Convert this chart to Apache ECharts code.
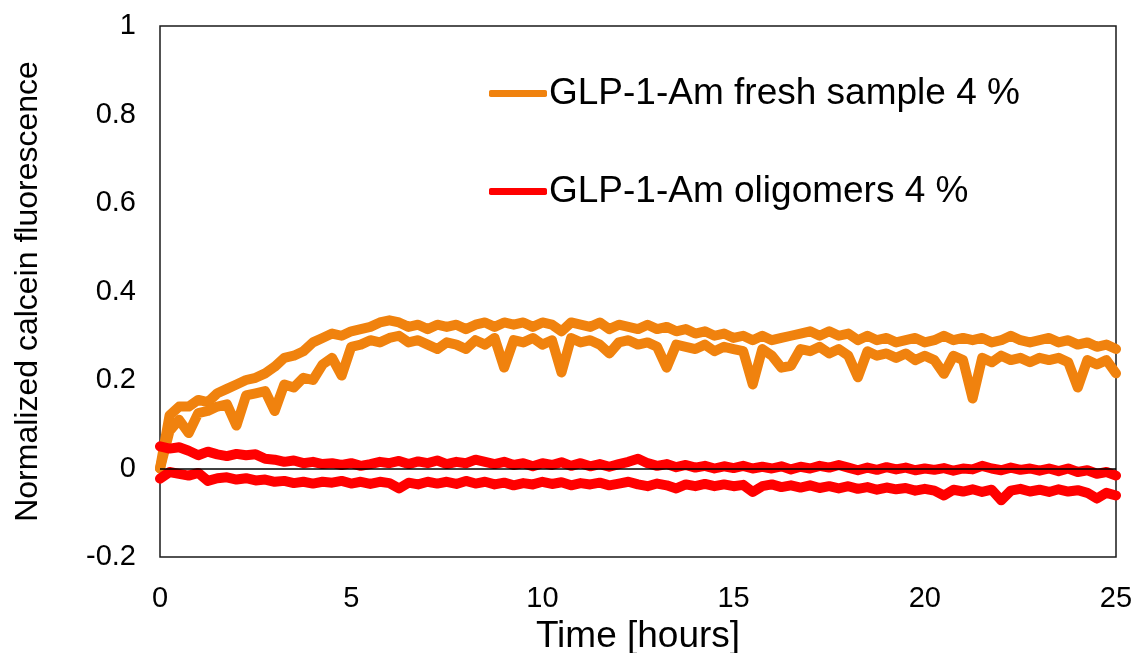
<!DOCTYPE html>
<html><head><meta charset="utf-8">
<script src="https://cdn.jsdelivr.net/npm/echarts@6/dist/echarts.min.js"></script>
<style>html,body{margin:0;padding:0;background:#fff}#c{width:1135px;height:653px}</style>
</head><body><div id="c"></div><script>
// Time axis samples (hours)
const times = [0,0.25,0.5,0.75,1,1.25,1.5,1.75,2,2.25,
 2.5,2.75,3,3.25,3.5,3.75,4,4.25,4.5,4.75,
 5,5.25,5.5,5.75,6,6.25,6.5,6.75,7,7.25,
 7.5,7.75,8,8.25,8.5,8.75,9,9.25,9.5,9.75,
 10,10.25,10.5,10.75,11,11.25,11.5,11.75,12,12.25,
 12.5,12.75,13,13.25,13.5,13.75,14,14.25,14.5,14.75,
 15,15.25,15.5,15.75,16,16.25,16.5,16.75,17,17.25,
 17.5,17.75,18,18.25,18.5,18.75,19,19.25,19.5,19.75,
 20,20.25,20.5,20.75,21,21.25,21.5,21.75,22,22.25,
 22.5,22.75,23,23.25,23.5,23.75,24,24.25,24.5,24.75,
 25];
// GLP-1-Am fresh sample 4 %, replicate 1
const freshRep1 = [0.00,0.12,0.14,0.14,0.155,0.15,0.17,0.18,0.19,0.20,
 0.205,0.215,0.23,0.25,0.255,0.265,0.285,0.295,0.305,0.30,
 0.31,0.315,0.32,0.33,0.335,0.33,0.32,0.325,0.315,0.325,
 0.32,0.325,0.315,0.325,0.33,0.32,0.33,0.325,0.33,0.32,
 0.33,0.325,0.31,0.33,0.325,0.32,0.33,0.315,0.325,0.32,
 0.315,0.325,0.315,0.32,0.31,0.315,0.305,0.31,0.30,0.305,
 0.295,0.30,0.29,0.30,0.29,0.295,0.30,0.305,0.31,0.30,
 0.31,0.30,0.305,0.29,0.30,0.29,0.295,0.285,0.29,0.295,
 0.285,0.29,0.30,0.29,0.295,0.29,0.295,0.285,0.29,0.30,
 0.29,0.285,0.29,0.295,0.285,0.29,0.28,0.285,0.275,0.28,
 0.27];
// GLP-1-Am fresh sample 4 %, replicate 2
const freshRep2 = [0.00,0.085,0.11,0.08,0.125,0.13,0.14,0.145,0.097,0.165,
 0.17,0.175,0.13,0.19,0.183,0.205,0.20,0.235,0.25,0.21,
 0.275,0.28,0.29,0.285,0.295,0.30,0.285,0.29,0.28,0.27,
 0.285,0.28,0.27,0.29,0.28,0.295,0.228,0.29,0.285,0.295,
 0.28,0.29,0.217,0.295,0.285,0.29,0.28,0.26,0.285,0.29,
 0.28,0.285,0.275,0.228,0.28,0.275,0.27,0.28,0.265,0.275,
 0.27,0.265,0.19,0.27,0.255,0.228,0.232,0.27,0.265,0.275,
 0.26,0.27,0.255,0.206,0.265,0.255,0.26,0.25,0.26,0.245,
 0.255,0.245,0.214,0.255,0.245,0.158,0.25,0.24,0.255,0.245,
 0.25,0.24,0.25,0.245,0.25,0.24,0.183,0.245,0.235,0.245,
 0.215];
// GLP-1-Am oligomers 4 %, replicate 1
const oligoRep1 = [0.05,0.045,0.048,0.04,0.03,0.038,0.032,0.028,0.033,0.03,
 0.032,0.022,0.02,0.015,0.018,0.012,0.015,0.01,0.012,0.008,
 0.012,0.006,0.01,0.015,0.012,0.017,0.01,0.016,0.012,0.018,
 0.01,0.015,0.012,0.02,0.015,0.01,0.015,0.008,0.012,0.005,
 0.012,0.008,0.014,0.006,0.012,0.005,0.01,0.004,0.01,0.015,
 0.022,0.012,0.006,0.01,0.003,0.008,0.002,0.006,0.0,0.005,
 0.001,0.006,0.0,0.004,0.0,0.005,-0.002,0.004,0.0,0.006,
 0.002,0.008,0.002,-0.004,0.002,-0.003,0.003,-0.002,0.002,-0.004,
 0.0,-0.003,0.001,-0.005,0.0,-0.002,0.006,0.0,-0.004,0.002,
 -0.003,0.0,-0.005,0.0,-0.006,0.0,-0.008,-0.004,-0.012,-0.008,
 -0.016];
// GLP-1-Am oligomers 4 %, replicate 2
const oligoRep2 = [-0.023,-0.008,-0.012,-0.016,-0.01,-0.028,-0.022,-0.02,-0.025,-0.022,
 -0.027,-0.025,-0.03,-0.028,-0.033,-0.03,-0.034,-0.03,-0.032,-0.028,
 -0.034,-0.03,-0.035,-0.03,-0.033,-0.045,-0.032,-0.036,-0.03,-0.034,
 -0.03,-0.035,-0.028,-0.034,-0.03,-0.036,-0.032,-0.038,-0.033,-0.036,
 -0.03,-0.035,-0.031,-0.038,-0.033,-0.036,-0.032,-0.038,-0.034,-0.03,
 -0.036,-0.04,-0.034,-0.038,-0.045,-0.036,-0.04,-0.035,-0.04,-0.036,
 -0.04,-0.037,-0.053,-0.04,-0.036,-0.042,-0.038,-0.043,-0.038,-0.044,
 -0.04,-0.045,-0.04,-0.046,-0.042,-0.048,-0.043,-0.047,-0.044,-0.05,
 -0.046,-0.05,-0.061,-0.048,-0.052,-0.047,-0.053,-0.048,-0.072,-0.05,
 -0.046,-0.052,-0.048,-0.053,-0.047,-0.052,-0.049,-0.055,-0.068,-0.055,
 -0.061];

const NAME_F = 'GLP-1-Am fresh sample 4 %';
const NAME_O = 'GLP-1-Am oligomers 4 %';
const ORANGE = '#F0820E';
const RED = '#FF0000';
const FONT = '"Liberation Sans", Arial, sans-serif';

const pairs = vals => times.map((t, i) => [t, vals[i]]);

function lineSeries(name, vals, color, extra) {
  return Object.assign({
    name: name, type: 'line', data: pairs(vals), showSymbol: false, symbol: 'none',
    lineStyle: { color: color, width: 10, cap: 'round', join: 'round' },
    itemStyle: { color: color }, emphasis: { disabled: true }
  }, extra || {});
}

const legendBase = {
  icon: 'roundRect', itemWidth: 58, itemHeight: 7, left: 484, orient: 'vertical',
  selectedMode: false,
  textStyle: { fontSize: 37, color: '#000', fontFamily: FONT, padding: [0, 0, 0, -3] }
};

const chart = echarts.init(document.getElementById('c'));
chart.setOption({
  animation: false,
  grid: { left: 160, right: 19, top: 26, bottom: 96, show: true, borderColor: '#1a1a1a', borderWidth: 1.5,
          containLabel: false, outerBoundsMode: 'none' },
  legend: [
    Object.assign({}, legendBase, { data: [NAME_F], top: 70 }),
    Object.assign({}, legendBase, { data: [NAME_O], top: 168 })
  ],
  xAxis: {
    type: 'value', min: 0, max: 25, interval: 5,
    axisLine: { show: false }, axisTick: { show: false }, splitLine: { show: false },
    axisLabel: { fontSize: 29, color: '#000', fontFamily: FONT, margin: 27 },
    name: 'Time [hours]', nameLocation: 'middle', nameGap: 55,
    nameTextStyle: { fontSize: 37, color: '#000', fontFamily: FONT }
  },
  yAxis: {
    type: 'value', min: -0.2, max: 1, interval: 0.2,
    axisLine: { show: false }, axisTick: { show: false }, splitLine: { show: false },
    axisLabel: { fontSize: 29, color: '#000', fontFamily: FONT, margin: 24,
      formatter: v => String(Math.round(v * 10) / 10) },
    name: 'Normalized calcein fluorescence', nameLocation: 'middle', nameGap: 116,
    nameTextStyle: { fontSize: 32, color: '#000', fontFamily: FONT }
  },
  series: [
    lineSeries(NAME_F, freshRep1, ORANGE, {
      markLine: { silent: true, symbol: 'none', label: { show: false },
        lineStyle: { color: '#000', width: 1.5, type: 'solid' }, data: [{ yAxis: 0 }] }
    }),
    lineSeries(NAME_F, freshRep2, ORANGE),
    lineSeries(NAME_O, oligoRep1, RED),
    lineSeries(NAME_O, oligoRep2, RED)
  ]
});
</script></body></html>
